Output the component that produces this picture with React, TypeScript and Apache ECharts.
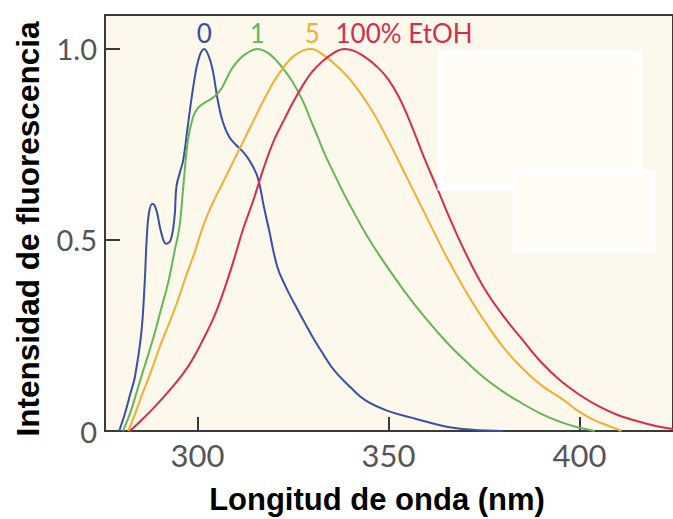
import React, { useEffect, useRef } from "react";
import * as echarts from "echarts";

// Wavelength (nm) / relative fluorescence intensity pairs
const blue0: number[][] = [
  [279.5, 0], [281, 0.045], [282.5, 0.1], [283.6, 0.14], [285.3, 0.256], [286.2, 0.39], [286.7, 0.5],
  [287.3, 0.57], [288.2, 0.595], [289.2, 0.58], [290.5, 0.52], [291.8, 0.49], [293, 0.5], [294, 0.56],
  [294.5, 0.64], [295.5, 0.68], [296.3, 0.71], [297.5, 0.8], [299.2, 0.92], [300.5, 0.98], [301.8, 1.0],
  [303, 0.98], [304, 0.945], [305.3, 0.867], [306.6, 0.81], [308.3, 0.77], [310, 0.75], [312, 0.73],
  [313.5, 0.71], [315.7, 0.666], [317.4, 0.587], [318.75, 0.526], [320.9, 0.43], [323, 0.38],
  [325.3, 0.335], [328, 0.285], [330.5, 0.24], [333, 0.2], [335.7, 0.16], [340, 0.115], [344, 0.08],
  [350, 0.052], [356, 0.035], [360, 0.024], [366, 0.01], [372, 0.003], [380, 0],
];
const green1: number[][] = [
  [280.5, 0], [282.5, 0.05], [284.5, 0.116], [286.5, 0.18], [288.8, 0.256], [290.5, 0.32], [292.3, 0.387],
  [294, 0.47], [295.3, 0.535], [296.3, 0.64], [297.5, 0.76], [298.8, 0.82], [300.1, 0.845], [302, 0.86],
  [304.4, 0.875], [306.2, 0.895], [307.5, 0.92], [308.8, 0.945], [310.5, 0.968], [312.2, 0.984],
  [314, 0.995], [315.7, 1.0], [317.5, 0.995], [319.2, 0.984], [321, 0.966], [322.7, 0.945], [324.5, 0.92],
  [326.1, 0.893], [328, 0.855], [329.6, 0.815], [331.5, 0.77], [333.1, 0.73], [335.7, 0.675], [338, 0.628],
  [340, 0.59], [343, 0.535], [346, 0.485], [350, 0.425], [355, 0.355], [360, 0.292], [365, 0.235],
  [370, 0.185], [375, 0.14], [380, 0.103], [384, 0.078], [390, 0.045], [395, 0.024], [399.5, 0.01], [404, 0],
];
const orange5: number[][] = [
  [281.9, 0], [283.5, 0.04], [285.3, 0.09], [288, 0.16], [290.5, 0.23], [292.7, 0.285], [294.9, 0.343],
  [297, 0.405], [299.2, 0.466], [301.8, 0.545], [304.4, 0.605], [307, 0.657], [309.6, 0.71], [312.2, 0.762],
  [314.8, 0.815], [317.4, 0.867], [320, 0.915], [322.7, 0.954], [325, 0.98], [327.9, 0.997], [330, 1.0],
  [332.2, 0.99], [335.7, 0.963], [340, 0.92], [345, 0.85], [350, 0.76], [355, 0.66], [360, 0.56],
  [365, 0.46], [370, 0.37], [375, 0.29], [380, 0.22], [385, 0.165], [390, 0.12], [396, 0.08], [400, 0.05],
  [404, 0.028], [407.3, 0.015], [411, 0],
];
const red100: number[][] = [
  [282.3, 0], [285, 0.025], [288.8, 0.063], [293, 0.11], [297.5, 0.168], [301, 0.23], [304.4, 0.3],
  [307, 0.37], [309.6, 0.45], [312, 0.53], [314.5, 0.6], [317.4, 0.69], [320, 0.76], [322.7, 0.815],
  [325, 0.86], [327.9, 0.91], [330, 0.94], [332.2, 0.963], [335.7, 0.99], [338.5, 1.0], [341, 0.995],
  [344, 0.978], [347.4, 0.95], [350, 0.92], [352.6, 0.877], [355, 0.825], [357.8, 0.755], [360, 0.7],
  [363, 0.63], [366, 0.558], [370, 0.47], [375, 0.375], [380, 0.302], [385, 0.24], [390, 0.18],
  [395, 0.132], [400, 0.095], [405, 0.065], [410, 0.042], [415, 0.026], [420, 0.013], [424.5, 0.005],
];

const seriesNames = ["0", "1", "5", "100% EtOH"];
const seriesColors = ["#3b4fa3", "#68b458", "#f1ae30", "#d62e4a"];
const peakPoints: number[][] = [[301.8, 1.0], [315.7, 1.0], [329, 1.0], [338.5, 1.0]];
const xTicks = [300, 350, 400];
const yTicks = [0, 0.5, 1.0];
const yTickLabels = ["0", "0.5", "1.0"];
const xTitle = "Longitud de onda (nm)";
const yTitle = "Intensidad de fluorescencia";

export default function App() {
  const ref = useRef<HTMLDivElement>(null);
  useEffect(() => {
    if (!ref.current) return;
    const chart = echarts.init(ref.current, null, { renderer: "svg" });
    const datasets = [blue0, green1, orange5, red100];
    const labelFont = { fontFamily: "Lato", fontSize: 26 };
    const series: any[] = datasets.map((d, i) => ({
      type: "line",
      name: seriesNames[i],
      data: d,
      showSymbol: false,
      smooth: 0.4,
      lineStyle: { color: seriesColors[i], width: 2 },
      itemStyle: { color: seriesColors[i] },
      z: 3,
      markPoint: {
        symbol: "circle",
        symbolSize: 1,
        itemStyle: { color: "rgba(0,0,0,0)" },
        silent: true,
        data: [
          {
            coord: peakPoints[i],
            label: {
              show: true,
              formatter: seriesNames[i],
              color: seriesColors[i],
              ...labelFont,
              position: "inside",
              align: i === 3 ? "left" : "center",
              offset: i === 3 ? [-9, -16] : i === 2 ? [4, -16] : [0, -16],
            },
          },
        ],
      },
    }));
    chart.setOption({
      animation: false,
      backgroundColor: "#ffffff",
      grid: {
        left: 105,
        top: 15,
        right: -3,
        bottom: 88,
        show: true,
        backgroundColor: "#fcf8ec",
        borderColor: "#3a3a3a",
        borderWidth: 2,
      },
      xAxis: {
        type: "value",
        min: 275.8,
        max: 424.5,
        axisLine: { show: true, lineStyle: { color: "#3a3a3a", width: 2 } },
        axisTick: {
          show: true,
          inside: true,
          length: 14,
          customValues: xTicks,
          lineStyle: { color: "#3a3a3a", width: 2 },
        },
        axisLabel: {
          customValues: xTicks,
          color: "#555555",
          fontFamily: "Lato",
          fontSize: 31,
          margin: 8,
        },
        splitLine: { show: false },
      },
      yAxis: {
        type: "value",
        min: 0,
        max: 1.089,
        axisLine: { show: true, lineStyle: { color: "#3a3a3a", width: 2 } },
        axisTick: {
          show: true,
          inside: true,
          length: 15,
          customValues: yTicks,
          lineStyle: { color: "#3a3a3a", width: 2 },
        },
        axisLabel: {
          customValues: yTicks,
          formatter: (v: number) => yTickLabels[yTicks.findIndex((t) => Math.abs(t - v) < 1e-6)] ?? "",
          color: "#555555",
          fontFamily: "Lato",
          fontSize: 29,
          margin: 8,
        },
        splitLine: { show: false },
      },
      graphic: [
        {
          type: "rect",
          shape: { x: 440, y: 53, width: 200, height: 135 },
          style: { fill: "#fffcf5", stroke: "#ffffff", lineWidth: 5 },
          z: 10,
        },
        {
          type: "rect",
          shape: { x: 515, y: 172, width: 138, height: 78 },
          style: { fill: "#fffcf5", stroke: "#ffffff", lineWidth: 5 },
          z: 11,
        },
        {
          type: "text",
          x: 377,
          y: 499,
          style: {
            text: xTitle,
            fill: "#000000",
            font: "bold 31px 'Liberation Sans', Arial, sans-serif",
            align: "center",
            verticalAlign: "middle",
          },
        },
        {
          type: "text",
          x: 28,
          y: 229,
          rotation: Math.PI / 2,
          style: {
            text: yTitle,
            fill: "#000000",
            font: "bold 31.5px 'Liberation Sans', Arial, sans-serif",
            align: "center",
            verticalAlign: "middle",
          },
        },
      ],
      series,
    });
    return () => chart.dispose();
  }, []);
  return (
    <div
      ref={ref}
      style={{ position: "fixed", left: 0, top: 0, width: 673, height: 519 }}
    />
  );
}
